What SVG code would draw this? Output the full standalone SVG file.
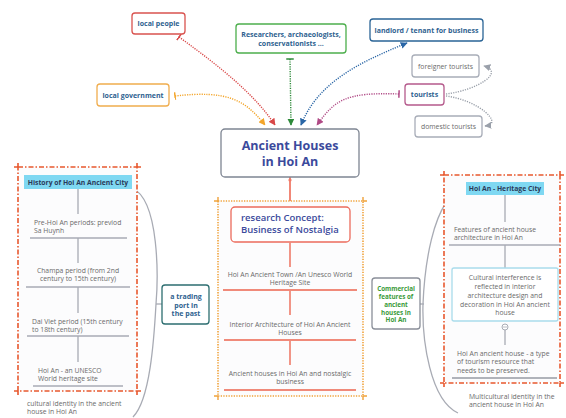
<svg xmlns="http://www.w3.org/2000/svg" width="566" height="418" viewBox="0 0 566 418">
<style>
text{font-family:"Open Sans","Liberation Sans",sans-serif;}
.lbl{font-size:7px;font-weight:bold;fill:#2f6290;text-anchor:middle;}
.body{font-size:6.8px;fill:#6a6a6a;}
.mid{text-anchor:middle;}
.node{fill:#fff;stroke-width:1.3;}
.hdr{fill:#7fd8f2;}
.hdrt{font-size:6.8px;font-weight:bold;fill:#2a3a5a;text-anchor:middle;}
.com{font-size:6.3px;font-weight:bold;fill:#3a9a3a;text-anchor:middle;}
.conn{fill:none;stroke-width:1.4;stroke-dasharray:1.2 1.2;}
.bd1{fill:#fcfcfd;stroke:#e8582e;stroke-width:1.6;stroke-dasharray:5 2 1.5 2;}
.bd2{fill:#fcfcfd;stroke:#f0a23a;stroke-width:1.6;stroke-dasharray:1.3 1.3;}
.gl{stroke:#a8abb4;stroke-width:1.3;fill:none;}
.rl{stroke:#f08a7a;stroke-width:1.8;fill:none;}
</style>
<defs>
<marker id="arr" viewBox="0 0 10 10" refX="9" refY="5" markerWidth="7" markerHeight="7" markerUnits="userSpaceOnUse" orient="auto"><path d="M0,0 L10,5 L0,10 z" fill="context-stroke"/></marker>
<marker id="arrS" viewBox="0 0 10 10" refX="1" refY="5" markerWidth="7" markerHeight="7" markerUnits="userSpaceOnUse" orient="auto"><path d="M10,0 L0,5 L10,10 z" fill="context-stroke"/></marker>
<marker id="tee" viewBox="0 0 4 10" refX="1" refY="5" markerWidth="3" markerHeight="8" markerUnits="userSpaceOnUse" orient="auto"><rect x="0" y="0" width="2" height="10" fill="context-stroke"/></marker>
</defs>
<rect width="566" height="418" fill="#fff"/>

<g id="connectors">
<path class="conn" stroke="#f3a52b" d="M175,96 C228,90 245,100 265,125" marker-start="url(#tee)" marker-end="url(#arr)"/>
<path class="conn" stroke="#d94848" d="M179,37 C222,68 255,95 275,125" marker-start="url(#tee)" marker-end="url(#arr)"/>
<path class="conn" stroke="#2e8a3a" d="M290,59 L291,125" marker-start="url(#tee)" marker-end="url(#arr)"/>
<path class="conn" stroke="#2a66a6" d="M407,43 C360,62 318,82 301,125" marker-start="url(#arrS)" marker-end="url(#arr)"/>
<path class="conn" stroke="#b04a86" d="M399,94 C345,92 335,100 317,125" marker-start="url(#tee)" marker-end="url(#arr)"/>
<path class="conn" stroke="#9aa0aa" d="M446,94 C478,90 505,72 484,66" marker-end="url(#arr)"/>
<path class="conn" stroke="#9aa0aa" d="M446,96 C478,100 505,124 485,126" marker-end="url(#arr)"/>
<line x1="290" y1="177" x2="290" y2="207" stroke="#f07a68" stroke-width="1.8"/>
<circle cx="290" cy="180" r="1.6" fill="#f07a68"/>
<path class="gl" d="M132,188 C160,200 158,280 156,304 C154,340 150,400 133,417"/>
<line class="gl" x1="156" y1="304" x2="162" y2="304"/>
<path class="gl" d="M466,188 C430,195 424,280 423,304 C422,340 430,400 458,413"/>
<line class="gl" x1="420" y1="304" x2="424" y2="304"/>
</g>

<g id="local-people">
<rect class="node" x="132" y="13" width="53" height="21" rx="3" stroke="#d9534f"/>
<text class="lbl" x="158.5" y="26">local people</text>
</g>
<g id="researchers">
<rect class="node" x="236" y="24" width="110" height="29" rx="3" stroke="#4cae4c"/>
<text class="lbl" x="291" y="36.5">Researchers, archaeologists,</text>
<text class="lbl" x="291" y="45.5">conservationists ...</text>
</g>
<g id="local-government">
<rect class="node" x="97" y="84" width="72" height="22" rx="3" stroke="#f0ad4e"/>
<text class="lbl" x="133" y="97.5">local government</text>
</g>
<g id="landlord">
<rect class="node" x="370" y="19" width="113" height="22" rx="3" stroke="#2a6496"/>
<text class="lbl" x="426.5" y="32.5">landlord / tenant for business</text>
</g>
<g id="tourists">
<rect class="node" x="405" y="84" width="39" height="21" rx="3" stroke="#b55a8c"/>
<text class="lbl" x="424.5" y="97">tourists</text>
</g>
<g id="foreigner-tourists">
<rect class="node" x="412" y="55" width="67" height="22" rx="3" stroke="#a8adb8"/>
<text class="body mid" x="445.5" y="68.5">foreigner tourists</text>
</g>
<g id="domestic-tourists">
<rect class="node" x="415" y="116" width="67" height="21" rx="3" stroke="#a8adb8"/>
<text class="body mid" x="448.5" y="129">domestic tourists</text>
</g>

<g id="central">
<rect class="node" x="221" y="129" width="138" height="48" rx="4" stroke="#7e8592" stroke-width="1.5"/>
<text x="290" y="149.5" text-anchor="middle" font-size="12.5" font-weight="bold" fill="#3b4a9c">Ancient Houses</text>
<text x="290" y="166" text-anchor="middle" font-size="12.5" font-weight="bold" fill="#3b4a9c">in Hoi An</text>
</g>

<g id="history-boundary">
<rect class="bd1" x="18" y="167" width="119" height="224"/>
<path d="M14,167 h4 M137,167 h4 M18,163 v4 M137,163 v4 M14,391 h4 M137,391 h4 M18,391 v4 M137,391 v4" stroke="#e8582e" stroke-width="1.6"/>
</g>
<g id="history">
<rect class="hdr" x="24" y="175" width="108" height="14"/>
<text class="hdrt" x="78" y="184.5">History of Hoi An Ancient City</text>
<line class="gl" x1="78" y1="189" x2="78" y2="214"/>
<text class="body" x="34" y="224.5">Pre-Hoi An periods: previod</text>
<text class="body" x="34" y="233">Sa Huynh</text>
<line class="gl" x1="30" y1="238" x2="127" y2="238"/>
<line class="gl" x1="78" y1="238" x2="78" y2="263"/>
<text class="body mid" x="78" y="272.5">Champa period (from 2nd</text>
<text class="body mid" x="78" y="281">century to 15th century)</text>
<line class="gl" x1="26" y1="287" x2="130" y2="287"/>
<line class="gl" x1="78" y1="287" x2="78" y2="313"/>
<text class="body" x="32" y="323.5">Dai Viet period (15th century</text>
<text class="body" x="32" y="332">to 18th century)</text>
<line class="gl" x1="27" y1="336" x2="129" y2="336"/>
<line class="gl" x1="78" y1="336" x2="78" y2="362"/>
<text class="body" x="38" y="372.5">Hoi An - an UNESCO</text>
<text class="body" x="38" y="381">World heritage site</text>
<line class="gl" x1="33" y1="386" x2="123" y2="386"/>
</g>
<g id="cultural-identity">
<text class="body" x="27" y="405.5">cultural identity in the ancient</text>
<text class="body" x="27" y="414">house in Hoi An</text>
</g>
<g id="trading-port">
<rect class="node" x="162" y="285" width="47" height="39" rx="3" stroke="#2d6e70"/>
<text class="lbl" x="186" y="298.5">a trading</text>
<text class="lbl" x="186" y="307.5">port in</text>
<text class="lbl" x="186" y="316">the past</text>
</g>

<g id="concept-boundary">
<rect class="bd2" x="218" y="201" width="145" height="195"/>
<path d="M214,201 h4 M363,201 h4 M218,197 v4 M363,197 v4 M214,396 h4 M363,396 h4 M218,396 v4 M363,396 v4" stroke="#f0a23a" stroke-width="1.4"/>
</g>
<g id="research-concept">
<rect class="node" x="231" y="207" width="119" height="35" rx="4" stroke="#ec6b5c" stroke-width="1.6"/>
<text x="241" y="221" font-size="9.5" font-weight="600" fill="#3b4a9c">research Concept:</text>
<text x="241" y="233" font-size="9.5" font-weight="600" fill="#3b4a9c">Business of Nostalgia</text>
<line class="rl" x1="290" y1="242" x2="290" y2="267"/>
<text class="body mid" x="290" y="276.5">Hoi An Ancient Town /An Unesco World</text>
<text class="body mid" x="290" y="285">Heritage Site</text>
<line class="rl" x1="223" y1="290" x2="357" y2="290"/>
<line class="rl" x1="290" y1="290" x2="290" y2="315"/>
<text class="body mid" x="290" y="326.5">Interior Architecture of Hoi An Ancient</text>
<text class="body mid" x="290" y="335">Houses</text>
<line class="rl" x1="224" y1="340" x2="356" y2="340"/>
<line class="rl" x1="290" y1="340" x2="290" y2="365"/>
<text class="body mid" x="290" y="375.5">Ancient houses in Hoi An and nostalgic</text>
<text class="body mid" x="290" y="384">business</text>
<line class="rl" x1="224" y1="390" x2="356" y2="390"/>
</g>

<g id="heritage-boundary">
<rect class="bd1" x="444" y="175" width="116" height="208"/>
<path d="M440,175 h4 M560,175 h4 M444,171 v4 M560,171 v4 M440,383 h4 M560,383 h4 M444,383 v4 M560,383 v4" stroke="#e8582e" stroke-width="1.6"/>
</g>
<g id="heritage-city">
<rect class="hdr" x="466" y="182" width="78" height="13"/>
<text class="hdrt" x="505" y="191">Hoi An - Heritage City</text>
<line class="gl" x1="505" y1="195" x2="505" y2="222"/>
<text class="body" x="454" y="231.5">Features of ancient house</text>
<text class="body" x="454" y="240">architecture in Hoi An</text>
<line class="gl" x1="449" y1="245" x2="560" y2="245"/>
<line class="gl" x1="505" y1="245" x2="505" y2="268"/>
<rect x="452" y="268" width="106" height="53" rx="2" fill="#fff" stroke="#a9dcec" stroke-width="1.3"/>
<text class="body mid" x="505" y="279.5">Cultural interference is</text>
<text class="body mid" x="505" y="288.5">reflected in interior</text>
<text class="body mid" x="505" y="297.5">architecture design and</text>
<text class="body mid" x="505" y="306.5">decoration in Hoi An ancient</text>
<text class="body mid" x="505" y="315">house</text>
<line class="gl" x1="505" y1="330" x2="505" y2="345"/>
<circle cx="505" cy="327" r="3" fill="#fff" stroke="#a8abb4" stroke-width="1"/>
<line x1="503" y1="327" x2="507" y2="327" stroke="#a8abb4" stroke-width="0.8"/>
<text class="body" x="457" y="355.5">Hoi An ancient house - a type</text>
<text class="body" x="457" y="364">of tourism resource that</text>
<text class="body" x="457" y="372.5">needs to be preserved.</text>
<line x1="452" y1="378" x2="557" y2="378" stroke="#b0b3ba" stroke-width="2"/>
</g>
<g id="multicultural-identity">
<text class="body" x="469" y="398.5">Multicultural identity in the</text>
<text class="body" x="469" y="407">ancient house in Hoi An</text>
</g>
<g id="commercial">
<rect class="node" x="372" y="278" width="48" height="51" rx="3" stroke="#8a8f99"/>
<text class="com" x="396" y="290.5">Commercial</text>
<text class="com" x="396" y="298.5">features of</text>
<text class="com" x="396" y="306.5">ancient</text>
<text class="com" x="396" y="314.5">houses in</text>
<text class="com" x="396" y="322">Hoi An</text>
</g>
</svg>
